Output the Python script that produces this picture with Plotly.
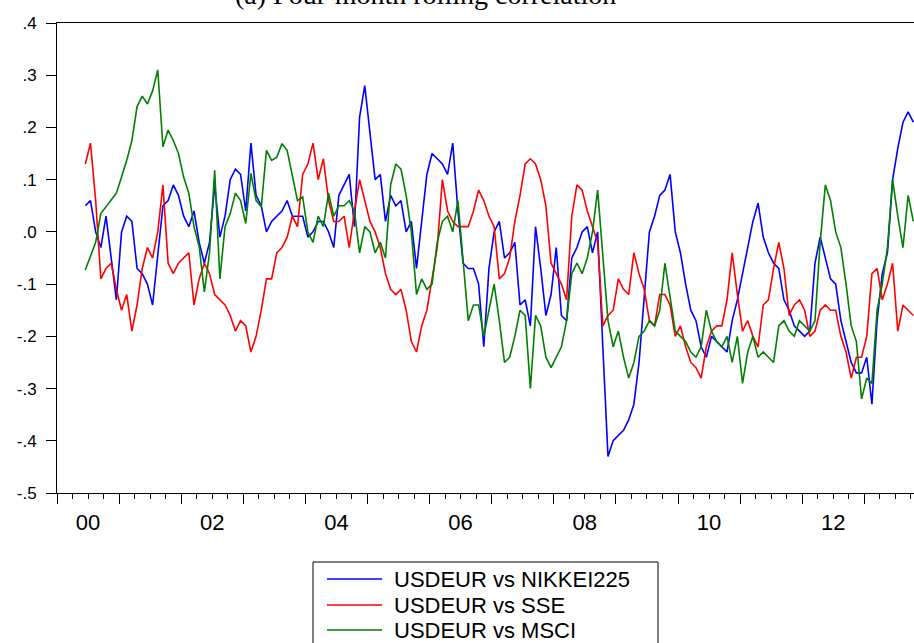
import numpy as np
import plotly.graph_objects as go

# ---------------- data (monthly readings, first point ~ mid 2000) ----------------
START_YEAR = 2000.456

nikkei225 = [
    0.05, 0.06, 0.0, -0.03, 0.03, -0.05, -0.13, 0.0, 0.03, 0.02,
    -0.07, -0.08, -0.1, -0.14, -0.05, 0.05, 0.06, 0.09, 0.07, 0.03,
    0.01, 0.04, -0.02, -0.06, -0.02, 0.09, -0.01, 0.03, 0.1, 0.12,
    0.11, 0.04, 0.17, 0.07, 0.05, 0.0, 0.02, 0.03, 0.04, 0.06,
    0.03, 0.03, 0.03, -0.01, 0.0, 0.02, 0.02, 0.0, -0.03, 0.07,
    0.09, 0.11, 0.01, 0.22, 0.28, 0.19, 0.1, 0.11, 0.02, 0.07,
    0.05, 0.06, 0.0, 0.02, -0.07, 0.02, 0.11, 0.15, 0.14, 0.13,
    0.11, 0.17, 0.04, -0.06, -0.07, -0.07, -0.1, -0.22, -0.07, 0.0,
    0.02, -0.05, -0.04, -0.02, -0.14, -0.13, -0.18, 0.01, -0.07, -0.16,
    -0.12, -0.03, -0.16, -0.17, -0.05, -0.03, 0.0, 0.01, -0.04, 0.0,
    -0.22, -0.43, -0.4, -0.39, -0.38, -0.36, -0.33, -0.25, -0.12, 0.0,
    0.03, 0.07, 0.08, 0.11, 0.0, -0.04, -0.1, -0.15, -0.17, -0.22,
    -0.24, -0.2, -0.21, -0.22, -0.23, -0.17, -0.13, -0.08, -0.03, 0.02,
    0.055, -0.01, -0.04, -0.06, -0.07, -0.13, -0.15, -0.18, -0.19, -0.2,
    -0.19, -0.06, -0.01, -0.05, -0.09, -0.1, -0.17, -0.21, -0.25, -0.27,
    -0.27, -0.24, -0.33, -0.17, -0.08, -0.04, 0.1, 0.16, 0.21, 0.23, 0.21,
]

sse = [
    0.13, 0.17, 0.06, -0.09, -0.07, -0.06, -0.11, -0.15, -0.12, -0.19,
    -0.14, -0.07, -0.03, -0.05, 0.0, 0.09, -0.06, -0.08, -0.06, -0.05,
    -0.04, -0.14, -0.09, -0.06, -0.08, -0.12, -0.13, -0.14, -0.16, -0.19,
    -0.17, -0.18, -0.23, -0.2, -0.15, -0.09, -0.09, -0.04, -0.03, -0.01,
    0.03, 0.01, 0.11, 0.13, 0.17, 0.1, 0.14, 0.06, 0.02, 0.02,
    0.03, -0.03, 0.04, 0.1, 0.06, 0.02, 0.0, -0.03, -0.08, -0.11,
    -0.12, -0.11, -0.15, -0.21, -0.23, -0.18, -0.15, -0.09, -0.03, 0.1,
    0.04, 0.02, 0.01, 0.01, 0.01, 0.04, 0.08, 0.06, 0.03, 0.01,
    -0.09, -0.08, -0.05, 0.02, 0.07, 0.13, 0.14, 0.13, 0.1, 0.05,
    -0.06, -0.08, -0.1, -0.13, 0.03, 0.09, 0.08, 0.04, 0.01, -0.02,
    -0.18, -0.16, -0.15, -0.09, -0.11, -0.12, -0.04, -0.08, -0.11, -0.17,
    -0.18, -0.12, -0.12, -0.14, -0.2, -0.18, -0.22, -0.25, -0.26, -0.28,
    -0.22, -0.19, -0.18, -0.18, -0.13, -0.04, -0.12, -0.19, -0.17, -0.2,
    -0.22, -0.14, -0.13, -0.07, -0.02, -0.07, -0.16, -0.14, -0.13, -0.15,
    -0.2, -0.19, -0.15, -0.14, -0.15, -0.15, -0.2, -0.23, -0.28, -0.24,
    -0.24, -0.2, -0.08, -0.07, -0.13, -0.1, -0.06, -0.19, -0.14, -0.15, -0.16,
]

msci = [
    -0.073, -0.047, -0.02, 0.035, 0.048, 0.06, 0.074, 0.105, 0.137, 0.175,
    0.24, 0.26, 0.245, 0.27, 0.31, 0.163, 0.195, 0.175, 0.15, 0.105,
    0.074, 0.01, -0.028, -0.115, -0.04, 0.118, -0.09, 0.01, 0.035, 0.074,
    0.06, 0.016, 0.112, 0.06, 0.048, 0.156, 0.137, 0.143, 0.169, 0.156,
    0.105, 0.06, 0.067, 0.0, -0.02, 0.03, 0.01, 0.074, 0.03, 0.05,
    0.05, 0.06, 0.04, -0.04, 0.01, 0.0, -0.04, -0.02, -0.05, 0.09,
    0.13, 0.12, 0.07, 0.0, -0.12, -0.09, -0.11, -0.1, -0.02, 0.02,
    0.03, 0.0, 0.06, -0.05, -0.17, -0.14, -0.14, -0.2, -0.15, -0.1,
    -0.17, -0.25, -0.24, -0.2, -0.15, -0.16, -0.3, -0.16, -0.18, -0.24,
    -0.26, -0.24, -0.22, -0.17, -0.08, -0.06, -0.08, -0.05, 0.0, 0.08,
    -0.05, -0.17, -0.22, -0.19, -0.24, -0.28, -0.25, -0.2, -0.19, -0.17,
    -0.18, -0.15, -0.06, -0.13, -0.19, -0.2, -0.21, -0.23, -0.24, -0.22,
    -0.15, -0.19, -0.21, -0.22, -0.2, -0.25, -0.2, -0.29, -0.23, -0.2,
    -0.24, -0.23, -0.24, -0.25, -0.18, -0.17, -0.19, -0.2, -0.17, -0.18,
    -0.19, -0.17, -0.02, 0.09, 0.06, 0.0, -0.03, -0.1, -0.18, -0.21,
    -0.32, -0.28, -0.29, -0.15, -0.1, -0.03, 0.1, 0.03, -0.03, 0.07, 0.02,
]

series_names = ["USDEUR vs NIKKEI225", "USDEUR vs SSE", "USDEUR vs MSCI"]
series_values = [nikkei225, sse, msci]
series_colors = ["#0000FF", "#FF0000", "#008000"]

year_ticks = list(range(2000, 2014))
year_labels = ["00", "", "02", "", "04", "", "06", "", "08", "", "10", "", "12", ""]
y_ticks = [-0.5, -0.4, -0.3, -0.2, -0.1, 0.0, 0.1, 0.2, 0.3, 0.4]
y_labels = ["-.5", "-.4", "-.3", "-.2", "-.1", ".0", ".1", ".2", ".3", ".4"]
title_text = "(a) Four-month rolling correlation"

# ---------------- layout geometry ----------------
W, H = 914, 643
ML, MR, MT, MB = 57, 0, 23, 150
PW, PH = W - ML - MR, H - MT - MB
PX_PER_YEAR = 62.1


def pxx(px):
    return (px - ML) / PW


def pxy(py):
    return (H - MB - py) / PH


fig = go.Figure()
for name, vals, col in zip(series_names, series_values, series_colors):
    x = START_YEAR + np.arange(len(vals)) / 12.0
    fig.add_trace(go.Scatter(x=x, y=vals, mode="lines", name=name,
                             line=dict(color=col, width=1.6), showlegend=False))

axis_font = dict(family="Arial, Liberation Sans, sans-serif", color="black")

fig.update_layout(
    width=W, height=H,
    margin=dict(l=ML, r=MR, t=MT, b=MB, pad=0),
    paper_bgcolor="white", plot_bgcolor="white",
    xaxis=dict(
        range=[2000, 2000 + PW / PX_PER_YEAR],
        tickmode="array", tickvals=year_ticks, ticktext=year_labels,
        ticks="outside", ticklen=10, tickwidth=1, tickcolor="black",
        ticklabelshift=31,
        tickfont=dict(size=22, **axis_font),
        showline=True, linecolor="black", linewidth=1, mirror=True,
        showgrid=False, zeroline=False,
        minor=dict(tickmode="linear", tick0=2000, dtick=0.25, ticks="outside",
                   ticklen=5, tickwidth=1, tickcolor="black", showgrid=False),
    ),
    yaxis=dict(
        range=[-0.5, 0.4],
        tickmode="array", tickvals=y_ticks, ticktext=y_labels,
        ticks="outside", ticklen=10, tickwidth=1, tickcolor="black",
        ticklabelstandoff=6,
        tickfont=dict(size=17, **axis_font),
        showline=True, linecolor="black", linewidth=1, mirror=False,
        showgrid=False, zeroline=False,
    ),
)

# title (partly cut at the top, as in the source)
fig.add_annotation(text=title_text, xref="paper", yref="paper",
                   x=pxx(425), y=pxy(-5), xanchor="center", yanchor="middle",
                   showarrow=False,
                   font=dict(family="Times New Roman, Liberation Serif, serif", size=28, color="black"))

# legend box (drawn manually to match the boxed EViews legend)
fig.add_shape(type="rect", xref="paper", yref="paper",
              x0=pxx(313), x1=pxx(658), y0=pxy(562), y1=pxy(670),
              line=dict(color="black", width=1), fillcolor="white", layer="above")
legend_rows = [579, 605, 630]
for name, col, row in zip(series_names, series_colors, legend_rows):
    fig.add_shape(type="line", xref="paper", yref="paper",
                  x0=pxx(327), x1=pxx(382), y0=pxy(row), y1=pxy(row),
                  line=dict(color=col, width=1.5))
    fig.add_annotation(text=name, xref="paper", yref="paper",
                       x=pxx(392), y=pxy(row), xanchor="left", yanchor="middle",
                       showarrow=False, font=dict(size=22, **axis_font))

fig.write_html("out.html")
